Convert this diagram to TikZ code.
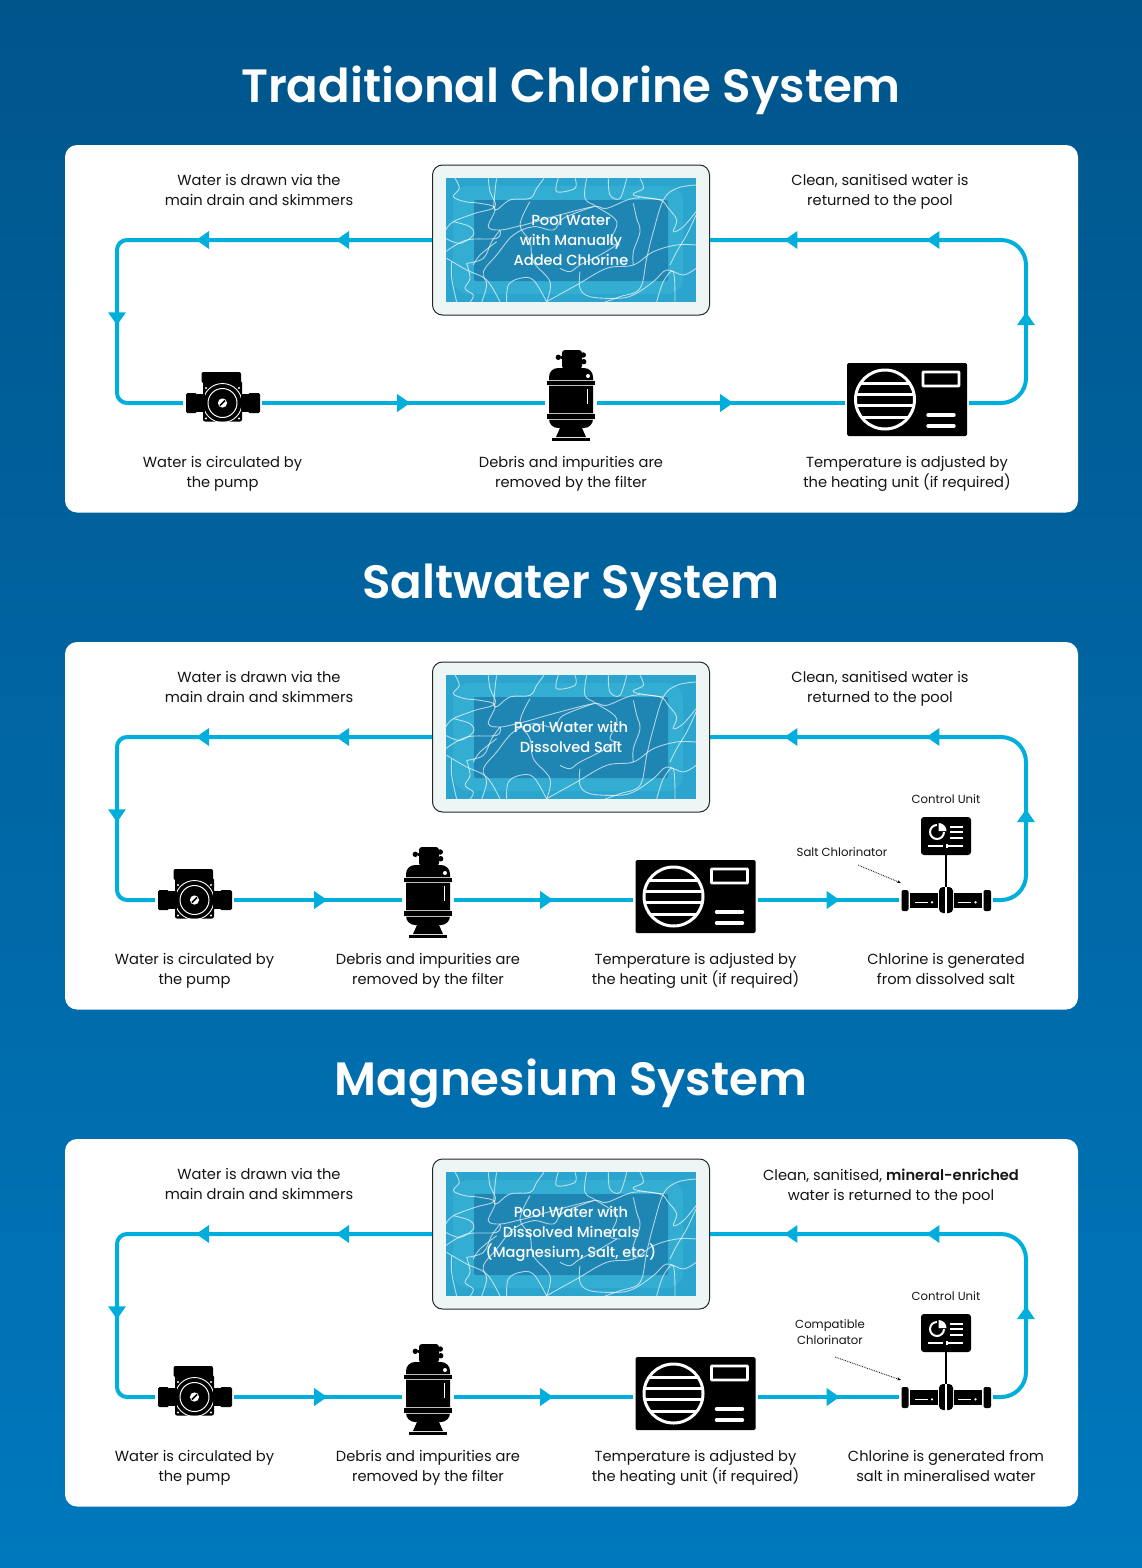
\documentclass[tikz,border=0pt]{standalone}
\usepackage{fontspec}
\setmainfont{Poppins}
\newfontfamily\semifont{Poppins SemiBold}
\newfontfamily\medfont{Poppins Medium}
\usetikzlibrary{arrows.meta,decorations.markings}
\definecolor{flowblue}{HTML}{00AEDB}
\definecolor{bgtop}{HTML}{00558B}
\definecolor{bgbot}{HTML}{0078BD}
\definecolor{poolframe}{HTML}{EDF5F5}
\definecolor{poolwater}{HTML}{2BA5CE}
\definecolor{poollight}{HTML}{3DB4D6}
\definecolor{pooldark}{HTML}{1F86B3}
\definecolor{inktext}{HTML}{141414}
\tikzset{
  x=1pt,y=-1pt,
  panelbox/.style={fill=white,rounded corners=12pt},
  titletext/.style={text=white,font=\fontsize{46.7}{50}\selectfont\semifont,inner sep=0},
  lab/.style={text=inktext,font=\fontsize{14.65}{20}\selectfont,align=center,inner sep=0,
    execute at begin node={\rule{0pt}{11pt}},execute at end node={\rule[-3.5pt]{0pt}{3.5pt}}},
  smalllab/.style={text=inktext,font=\fontsize{11.7}{16}\selectfont,align=center,inner sep=0},
  poolbox/.style={draw=black!85,line width=1pt,fill=poolframe,rounded corners=10pt,minimum width=277pt,minimum height=150pt,inner sep=0},
  pooltext/.style={text=white,font=\fontsize{14.6}{20}\selectfont\medfont,align=center,inner sep=0},
  iconspot/.style={inner sep=0,minimum width=#1,minimum height=26pt},
  flow/.style={draw=flowblue,line width=4pt},
  tipat/.style={postaction={decorate,decoration={markings,mark=at position #1 with {\arrow[color=flowblue]{Triangle[length=13pt,width=17pt]}}}}},
  pointer/.style={draw=black,line width=.8pt,densely dotted,-{Stealth[length=4pt,width=3pt]}},
  caustic/.style={draw=white,opacity=.65,line width=.9pt},
  poolicon/.pic={
    \fill[poolwater] (-125,-62) rectangle (125,62);
    \fill[poollight,opacity=.55,rounded corners=16pt] (-118,-54) rectangle (112,54);
    \fill[pooldark,rounded corners=2pt] (-97,-40) rectangle (97,41);
    \begin{scope}
      \clip (-125,-62) rectangle (125,62);
      \begin{scope}[shift={(-151,-85)},scale=1/3,caustic,smooth]
        \draw plot[smooth,tension=.6] coordinates {(105,70)(118,100)(100,125)(135,140)(180,145)(225,160)(205,215)(240,225)(290,215)(330,205)(400,185)(520,155)(560,160)(640,130)(720,135)(745,160)(770,195)(760,230)(790,215)(828,170)};
        \draw plot[smooth,tension=.6] coordinates {(77,225)(100,200)(165,175)(225,155)(210,110)(205,70)};
        \draw plot[smooth,tension=.6] coordinates {(230,70)(225,110)(225,165)(270,135)(330,130)(350,100)(372,70)};
        \draw plot[smooth,tension=.6] coordinates {(77,250)(120,265)(160,240)(150,215)(100,200)};
        \draw plot[smooth,tension=.6] coordinates {(77,290)(140,255)(230,250)(240,225)};
        \draw plot[smooth,tension=.6] coordinates {(95,320)(95,370)(110,441)};
        \draw plot[smooth,tension=.6] coordinates {(140,325)(150,370)(135,400)(160,420)(150,441)};
        \draw plot[smooth,tension=.6] coordinates {(140,325)(190,310)(215,260)(240,225)};
        \draw plot[smooth,tension=.6] coordinates {(80,310)(140,345)(200,375)(240,441)};
        \draw plot[smooth,tension=.6] coordinates {(185,441)(200,390)(190,350)(230,300)(280,240)(340,215)(400,225)(430,190)(520,155)};
        \draw plot[smooth,tension=.6] coordinates {(260,441)(265,390)(300,370)(340,375)(380,441)};
        \draw plot[smooth,tension=.6] coordinates {(380,440)(390,380)(340,320)(330,260)(300,210)(330,140)};
        \draw plot[smooth,tension=.6] coordinates {(380,440)(470,390)(560,340)(640,330)(700,290)(770,270)(828,270)};
        \draw plot[smooth,tension=.6] coordinates {(415,70)(410,110)(465,100)(465,70)};
        \draw plot[smooth,tension=.6] coordinates {(500,70)(495,130)(530,155)(590,200)(570,260)(600,270)};
        \draw plot[smooth,tension=.6] coordinates {(565,70)(570,120)(600,130)(620,70)};
        \draw plot[smooth,tension=.6] coordinates {(660,70)(670,100)(640,120)(730,135)};
        \draw plot[smooth,tension=.6] coordinates {(828,90)(770,100)(730,135)(700,230)(680,310)(660,400)(600,425)(555,441)};
        \draw plot[smooth,tension=.6] coordinates {(480,350)(480,400)(510,425)(590,430)(640,420)(700,380)(740,345)(790,360)(828,340)};
        \draw plot[smooth,tension=.6] coordinates {(710,441)(730,380)(760,350)(765,441)};
        \draw plot[smooth,tension=.6] coordinates {(828,180)(800,240)(770,290)(750,330)};
        \draw plot[smooth,tension=.6] coordinates {(640,145)(650,190)(660,230)(640,290)(640,330)};
        \draw plot[smooth,tension=.6] coordinates {(420,340)(450,350)(480,330)(540,300)(590,270)};
        \draw plot[smooth,tension=.6] coordinates {(160,330)(180,300)(230,260)};
      \end{scope}
    \end{scope}
  },
  pumpicon/.pic={
    \fill[black,rounded corners=2pt] (-21,-31) rectangle (18.5,-20);
    \fill[black,rounded corners=2pt] (-19.5,-22) rectangle (19.5,18.5);
    \fill[black,rounded corners=1.5pt] (-36.5,-10) rectangle (-25.5,10);
    \fill[black,rounded corners=1.5pt] (25.5,-10) rectangle (37.5,10);
    \fill[black] (-26,-7) rectangle (26,7);
    \draw[white,line width=.9pt] (0,0) circle (19.5);
    \fill[black] (-26,-9) rectangle (-18,9);
    \fill[black] (18,-9) rectangle (26,9);
    \draw[white,line width=1pt] (0,0) circle (14.5);
    \fill[white] (0,0) circle (4.6);
    \draw[black,line width=1.6pt] (-2.6,2.6) -- (2.6,-2.6);
    \foreach \cx/\cy in {-16.5/-15,16.5/-15,-16.5/15.5,16.5/15.5}{\fill[white] (\cx,\cy) circle (1.1);}
  },
  filtericon/.pic={
    \fill[black,rounded corners=3pt] (-9,-53) rectangle (11,-34);
    \fill[black] (-12.7,-45.7) circle (2.7) (12.3,-48) circle (2.7) (12.7,-41.3) circle (2.7);
    \fill[black] (-10,-47) rectangle (11,-44);
    \fill[black,rounded corners=9pt] (-22,-35) rectangle (22,25);
    \fill[black] (-24,-22) rectangle (24,-18);
    \fill[black] (-24,11) rectangle (24,16);
    \draw[white,opacity=.75,line width=.5pt] (-22,-22.5) -- (22,-22.5) (-22,-17.5) -- (22,-17.5) (-22,10.5) -- (22,10.5) (-22,16.5) -- (22,16.5);
    \fill[white] (17,-27) circle (2);
    \draw[white,line width=1.6pt] (16.5,-14) -- (16.5,1);
    \fill[black] (-11,25) -- (11,25) -- (15,34) -- (-15,34) -- cycle;
    \fill[black] (-19,35) rectangle (19,37.5);
  },
  heatericon/.pic={
    \fill[black,rounded corners=1.5pt] (-60,-40) rectangle (60,33);
    \draw[white,line width=3pt] (-22,-3.5) circle (29.5);
    \begin{scope}
      \clip (-22,-3.5) circle (29.5);
      \draw[white,line width=3pt] (-55,-20) -- (11,-20) (-55,-9) -- (11,-9) (-55,2.5) -- (11,2.5) (-55,14) -- (11,14);
    \end{scope}
    \draw[white,line width=2.6pt,rounded corners=.5pt] (16,-31) rectangle (52,-17);
    \draw[white,line width=3.4pt,line cap=round] (21,12) -- (47,12) (21,23) -- (47,23);
  },
  chloricon/.pic={
    \fill[black,rounded corners=2pt] (-44.5,-10) rectangle (-37.5,11);
    \fill[black,rounded corners=2pt] (37.5,-10) rectangle (45,11);
    \fill[black] (-36,-7) rectangle (-8,8);
    \fill[black] (8,-7) rectangle (36,8);
    \fill[black,rounded corners=4pt] (-7,-13) rectangle (7,13);
    \draw[white,line width=1.4pt] (0,-13.5) -- (0,13.5);
    \draw[white,line width=1.1pt] (-31,2.3) -- (-18,2.3) (12,2.3) -- (25,2.3);
    \fill[white] (-14,2.3) circle (1.3) (29.5,2.3) circle (1.3);
  },
  ctrlicon/.pic={
    \draw[white,line width=2pt] (-9,-4) circle (7);
    \fill[black] (-9.5,-14) rectangle (1,-4.2);
    \fill[white] (-7.5,-5) -- (-7.5,-13) .. controls (-3,-13) and (.5,-9.4) .. (.5,-5) -- cycle;
    \draw[white,line width=1.5pt] (4,-9) -- (17,-9) (4,-4) -- (17,-4) (4,2) -- (17,2);
    \draw[white,line width=1.5pt] (-18,10) -- (-3,10) (0,10) -- (17,10) (1,8) -- (1,12);
  },
}
% #1 id, #2 pool text
\newcommand{\sharedtop}[2]{%
  \fill[panelbox] (65,145) rectangle (1078,512.5);
  \node[poolbox] (pool#1) at (571,240) {};
  \pic at (pool#1.center) {poolicon};
  \node[pooltext] (poolt#1) at (571,240) {#2};
  \node[lab] (drawn#1) at (259,192) {Water is drawn via the\\main drain and skimmers};
  \coordinate (tl#1) at (117,240);
  \coordinate (bl#1) at (117,403);
  \coordinate (tr#1) at (1026,240);
  \coordinate (br#1) at (1026,403);
}
\begin{document}
\begin{tikzpicture}
\useasboundingbox (0,0) rectangle (1142,1568);
\shade[top color=bgtop,bottom color=bgbot] (0,0) rectangle (1142,1568);

\node[titletext] (titleA) at (571,90) {Traditional Chlorine System};
\node[titletext] (titleB) at (571,587) {Saltwater System};
\node[titletext] (titleC) at (571,1084) {Magnesium System};

% ---------- Panel A
\begin{scope}
\sharedtop{A}{Pool Water\\with Manually\\Added Chlorine}
\node[lab] (backA) at (880,192) {Clean, sanitised water is\\returned to the pool};
\node[iconspot=79pt] (pumpA) at (222.5,403) {};
\node[iconspot=52pt] (filterA) at (571,403) {};
\node[iconspot=124pt] (heatA) at (907,403) {};
\pic at (pumpA.center) {pumpicon};
\pic at (filterA.center) {filtericon};
\pic at (heatA.center) {heatericon};
\draw[flow,rounded corners=10pt,tipat=96pt,tipat=236pt,tipat=396pt] (poolA.west) -- (tlA) -- (blA) -- (pumpA.west);
\draw[flow,tipat=148pt] (pumpA.east) -- (filterA.west);
\draw[flow,tipat=136pt] (filterA.east) -- (heatA.west);
\draw[flow,rounded corners=25pt,tipat=137pt,tipat=298pt,tipat=440pt] (heatA.east) -- (brA) -- (trA) -- (poolA.east);
\node[lab] (capPumpA) at (222.5,474) {Water is circulated by\\the pump};
\node[lab] (capFilterA) at (571,474) {Debris and impurities are\\removed by the filter};
\node[lab] (capHeatA) at (907,474) {Temperature is adjusted by\\the heating unit (if required)};
\end{scope}

% ---------- Panel B
\begin{scope}[shift={(0,497)}]
\sharedtop{B}{Pool Water with\\Dissolved Salt}
\node[lab] (backB) at (880,192) {Clean, sanitised water is\\returned to the pool};
\node[iconspot=79pt] (pumpB) at (194.5,403) {};
\node[iconspot=52pt] (filterB) at (428,403) {};
\node[iconspot=124pt] (heatB) at (695.5,403) {};
\node[iconspot=94pt] (chlorB) at (946,403) {};
\node[inner sep=0,minimum width=50pt,minimum height=38pt,fill=black,rounded corners=3pt] (ctrlB) at (946,339) {};
\pic at (pumpB.center) {pumpicon};
\pic at (filterB.center) {filtericon};
\pic at (heatB.center) {heatericon};
\pic at (chlorB.center) {chloricon};
\pic at (ctrlB.center) {ctrlicon};
\draw[black,line width=1.5pt] (ctrlB.south) -- (chlorB.north);
\draw[flow,rounded corners=10pt,tipat=96pt,tipat=236pt,tipat=396pt] (poolB.west) -- (tlB) -- (blB) -- (pumpB.west);
\draw[flow,tipat=93pt] (pumpB.east) -- (filterB.west);
\draw[flow,tipat=99pt] (filterB.east) -- (heatB.west);
\draw[flow,tipat=82pt] (heatB.east) -- (chlorB.west);
\draw[flow,rounded corners=25pt,tipat=113pt,tipat=274pt,tipat=416pt] (chlorB.east) -- (brB) -- (trB) -- (poolB.east);
\node[smalllab] (ctrlLabB) at (946,302) {Control Unit};
\node[smalllab] (saltLabB) at (842,355) {Salt Chlorinator};
\coordinate (ptrFromB) at (858,368);
\coordinate (ptrToB) at (901,386);
\draw[pointer] (ptrFromB) -- (ptrToB);
\node[lab] (capPumpB) at (194.5,474) {Water is circulated by\\the pump};
\node[lab] (capFilterB) at (428,474) {Debris and impurities are\\removed by the filter};
\node[lab] (capHeatB) at (695.5,474) {Temperature is adjusted by\\the heating unit (if required)};
\node[lab] (capChlorB) at (946,474) {Chlorine is generated\\from dissolved salt};
\end{scope}

% ---------- Panel C
\begin{scope}[shift={(0,994)}]
\sharedtop{C}{Pool Water with\\Dissolved Minerals\\(Magnesium, Salt, etc.)}
\node[lab] (backC) at (891,193) {Clean, sanitised, {\semifont mineral-enriched}\\water is returned to the pool};
\node[iconspot=79pt] (pumpC) at (194.5,403) {};
\node[iconspot=52pt] (filterC) at (428,403) {};
\node[iconspot=124pt] (heatC) at (695.5,403) {};
\node[iconspot=94pt] (chlorC) at (946,403) {};
\node[inner sep=0,minimum width=50pt,minimum height=38pt,fill=black,rounded corners=3pt] (ctrlC) at (946,339) {};
\pic at (pumpC.center) {pumpicon};
\pic at (filterC.center) {filtericon};
\pic at (heatC.center) {heatericon};
\pic at (chlorC.center) {chloricon};
\pic at (ctrlC.center) {ctrlicon};
\draw[black,line width=1.5pt] (ctrlC.south) -- (chlorC.north);
\draw[flow,rounded corners=10pt,tipat=96pt,tipat=236pt,tipat=396pt] (poolC.west) -- (tlC) -- (blC) -- (pumpC.west);
\draw[flow,tipat=93pt] (pumpC.east) -- (filterC.west);
\draw[flow,tipat=99pt] (filterC.east) -- (heatC.west);
\draw[flow,tipat=82pt] (heatC.east) -- (chlorC.west);
\draw[flow,rounded corners=25pt,tipat=113pt,tipat=274pt,tipat=416pt] (chlorC.east) -- (brC) -- (trC) -- (poolC.east);
\node[smalllab] (ctrlLabC) at (946,302) {Control Unit};
\node[smalllab] (saltLabC) at (830,338) {Compatible\\Chlorinator};
\coordinate (ptrFromC) at (835,363);
\coordinate (ptrToC) at (901,386);
\draw[pointer] (ptrFromC) -- (ptrToC);
\node[lab] (capPumpC) at (194.5,474) {Water is circulated by\\the pump};
\node[lab] (capFilterC) at (428,474) {Debris and impurities are\\removed by the filter};
\node[lab] (capHeatC) at (695.5,474) {Temperature is adjusted by\\the heating unit (if required)};
\node[lab] (capChlorC) at (946,474) {Chlorine is generated from\\salt in mineralised water};
\end{scope}
\end{tikzpicture}
\end{document}
